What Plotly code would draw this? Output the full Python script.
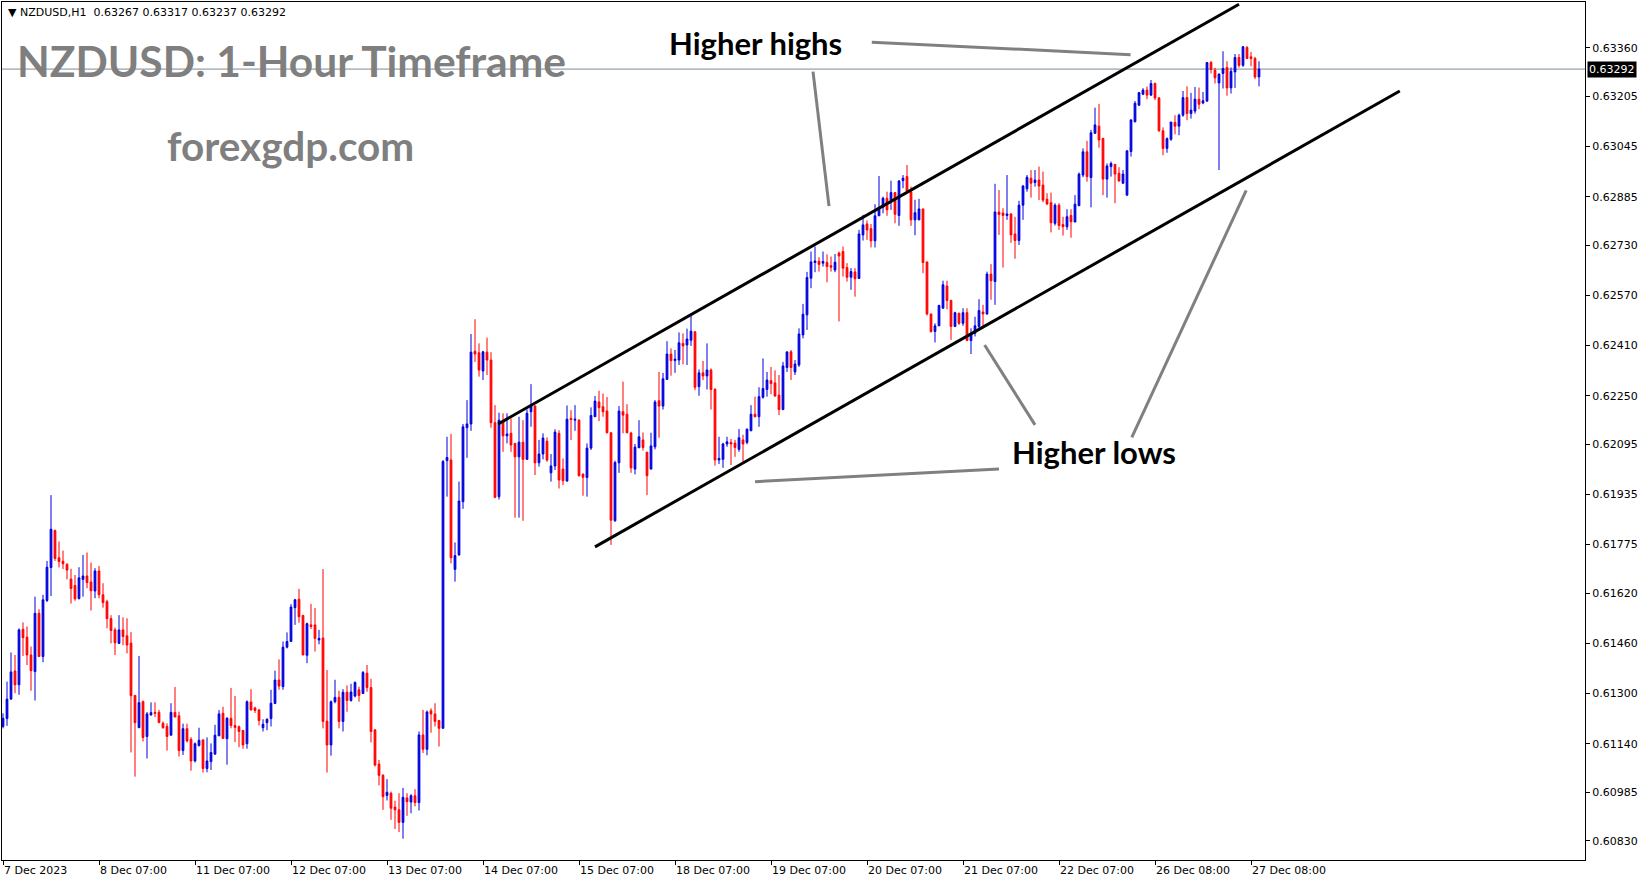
import plotly.graph_objects as go

# ---------------- data (NZDUSD H1, bar index 0..314) ----------------
opens = [0.61195,0.61220,0.61282,0.61372,0.61328,0.61505,0.61480,0.61423,0.61370,0.61556,
0.61418,0.61597,0.61702,0.61820,0.61733,0.61722,0.61712,0.61665,0.61645,0.61603,
0.61664,0.61675,0.61656,0.61627,0.61691,0.61615,0.61593,0.61539,0.61503,0.61460,
0.61503,0.61484,0.61461,0.61294,0.61191,0.61274,0.61163,0.61232,0.61240,0.61240,
0.61205,0.61195,0.61167,0.61240,0.61229,0.61118,0.61188,0.61154,0.61085,0.61134,
0.61152,0.61061,0.61083,0.61107,0.61165,0.61237,0.61156,0.61221,0.61198,0.61194,
0.61182,0.61140,0.61273,0.61254,0.61248,0.61191,0.61207,0.61220,0.61268,0.61343,
0.61322,0.61448,0.61466,0.61574,0.61601,0.61549,0.61422,0.61519,0.61519,0.61471,
0.61477,0.61212,0.61136,0.61274,0.61288,0.61211,0.61304,0.61278,0.61292,0.61312,
0.61300,0.61365,0.61319,0.61184,0.61075,0.61039,0.60975,0.60982,0.60938,0.60929,
0.60889,0.60967,0.60954,0.60974,0.60952,0.61168,0.61122,0.61245,0.61235,0.61214,
0.61189,0.62043,0.62045,0.61696,0.61742,0.61912,0.62148,0.62160,0.62392,0.62387,
0.62329,0.62389,0.62364,0.62164,0.61928,0.62167,0.62122,0.62130,0.62098,0.62055,
0.62102,0.62047,0.62199,0.62217,0.62036,0.62064,0.62105,0.62004,0.62026,0.62130,
0.62016,0.61978,0.62178,0.62172,0.62172,0.62000,0.61989,0.62083,0.62183,0.62230,
0.62215,0.62201,0.62132,0.61851,0.62036,0.62199,0.62191,0.62131,0.62016,0.62084,
0.62109,0.62070,0.62016,0.62087,0.62234,0.62217,0.62302,0.62383,0.62362,0.62364,
0.62417,0.62412,0.62427,0.62454,0.62279,0.62323,0.62313,0.62332,0.62271,0.62045,
0.62047,0.62096,0.62101,0.62099,0.62079,0.62109,0.62101,0.62138,0.62191,0.62183,
0.62245,0.62270,0.62298,0.62291,0.62252,0.62206,0.62340,0.62390,0.62326,0.62348,
0.62444,0.62508,0.62625,0.62675,0.62679,0.62673,0.62675,0.62665,0.62651,0.62705,
0.62710,0.62659,0.62628,0.62645,0.62624,0.62763,0.62798,0.62783,0.62744,0.62824,
0.62851,0.62880,0.62875,0.62898,0.62825,0.62936,0.62949,0.62901,0.62811,0.62811,
0.62846,0.62677,0.62511,0.62455,0.62473,0.62529,0.62600,0.62554,0.62471,0.62513,
0.62481,0.62515,0.62426,0.62449,0.62471,0.62517,0.62511,0.62638,0.62614,0.62836,
0.62833,0.62825,0.62830,0.62766,0.62745,0.62858,0.62910,0.62944,0.62930,0.62938,
0.62922,0.62877,0.62866,0.62800,0.62858,0.62796,0.62789,0.62825,0.62804,0.62856,
0.62954,0.63028,0.62946,0.63087,0.63110,0.63071,0.62941,0.62981,0.62988,0.62960,
0.62928,0.62890,0.63029,0.63124,0.63177,0.63212,0.63225,0.63209,0.63246,0.63200,
0.63095,0.63039,0.63068,0.63122,0.63110,0.63145,0.63201,0.63150,0.63158,0.63196,
0.63184,0.63190,0.63313,0.63288,0.63248,0.63278,0.63297,0.63232,0.63283,0.63329,
0.63304,0.63361,0.63331,0.63326,0.63267]

highs = [0.61237,0.61338,0.61431,0.61423,0.61508,0.61527,0.61514,0.61450,0.61609,0.61569,
0.61615,0.61723,0.61933,0.61823,0.61785,0.61756,0.61716,0.61698,0.61678,0.61703,
0.61742,0.61750,0.61718,0.61700,0.61707,0.61652,0.61599,0.61550,0.61510,0.61550,
0.61543,0.61540,0.61496,0.61294,0.61420,0.61278,0.61241,0.61272,0.61272,0.61248,
0.61211,0.61205,0.61269,0.61321,0.61242,0.61204,0.61204,0.61161,0.61144,0.61191,
0.61154,0.61160,0.61141,0.61200,0.61247,0.61258,0.61225,0.61318,0.61292,0.61198,
0.61184,0.61278,0.61314,0.61258,0.61248,0.61218,0.61221,0.61312,0.61373,0.61409,
0.61466,0.61495,0.61585,0.61602,0.61634,0.61551,0.61526,0.61586,0.61573,0.61503,
0.61697,0.61375,0.61278,0.61344,0.61309,0.61314,0.61326,0.61331,0.61339,0.61322,
0.61372,0.61391,0.61347,0.61187,0.61088,0.61043,0.61027,0.60987,0.60958,0.60982,
0.60999,0.60982,0.60979,0.60995,0.61179,0.61248,0.61246,0.61253,0.61269,0.61216,
0.62045,0.62119,0.62128,0.61782,0.61976,0.62160,0.62236,0.62447,0.62494,0.62417,
0.62393,0.62435,0.62389,0.62220,0.62196,0.62194,0.62194,0.62178,0.62098,0.62183,
0.62172,0.62206,0.62287,0.62220,0.62109,0.62130,0.62117,0.62064,0.62143,0.62140,
0.62050,0.62219,0.62204,0.62220,0.62175,0.62002,0.62098,0.62213,0.62249,0.62266,
0.62257,0.62246,0.62132,0.62043,0.62217,0.62295,0.62223,0.62135,0.62096,0.62172,
0.62133,0.62070,0.62132,0.62236,0.62326,0.62323,0.62424,0.62401,0.62396,0.62452,
0.62449,0.62464,0.62513,0.62456,0.62334,0.62361,0.62417,0.62337,0.62273,0.62119,
0.62100,0.62119,0.62112,0.62109,0.62144,0.62126,0.62146,0.62220,0.62247,0.62277,
0.62369,0.62326,0.62342,0.62331,0.62316,0.62358,0.62390,0.62396,0.62364,0.62465,
0.62543,0.62645,0.62710,0.62726,0.62692,0.62710,0.62701,0.62694,0.62702,0.62710,
0.62726,0.62673,0.62657,0.62657,0.62779,0.62827,0.62809,0.62798,0.62861,0.62951,
0.62885,0.62901,0.62936,0.62899,0.62938,0.62954,0.62986,0.62917,0.62875,0.62878,
0.62846,0.62677,0.62511,0.62481,0.62540,0.62617,0.62617,0.62556,0.62518,0.62515,
0.62529,0.62529,0.62465,0.62502,0.62558,0.62540,0.62646,0.62670,0.62926,0.62906,
0.62848,0.62954,0.62832,0.62821,0.62872,0.62922,0.62954,0.62970,0.62970,0.62981,
0.62965,0.62896,0.62898,0.62864,0.62864,0.62821,0.62845,0.62845,0.62890,0.62962,
0.63039,0.63063,0.63098,0.63169,0.63181,0.63071,0.62991,0.62997,0.62988,0.62979,
0.62970,0.63034,0.63130,0.63190,0.63217,0.63231,0.63236,0.63257,0.63249,0.63203,
0.63106,0.63074,0.63123,0.63145,0.63150,0.63222,0.63237,0.63216,0.63235,0.63233,
0.63219,0.63313,0.63318,0.63296,0.63278,0.63349,0.63317,0.63297,0.63340,0.63340,
0.63366,0.63365,0.63347,0.63331,0.63317]

lows = [0.61189,0.61197,0.61282,0.61301,0.61296,0.61420,0.61391,0.61309,0.61278,0.61418,
0.61400,0.61592,0.61611,0.61723,0.61702,0.61697,0.61664,0.61587,0.61596,0.61600,
0.61609,0.61636,0.61565,0.61604,0.61604,0.61574,0.61508,0.61460,0.61423,0.61458,
0.61454,0.61428,0.61112,0.61035,0.61191,0.61147,0.61093,0.61229,0.61225,0.61205,
0.61188,0.61118,0.61167,0.61225,0.61099,0.61104,0.61144,0.61054,0.61080,0.61131,
0.61048,0.61049,0.61056,0.61104,0.61165,0.61155,0.61073,0.61189,0.61145,0.61129,
0.61124,0.61124,0.61245,0.61238,0.61198,0.61179,0.61183,0.61195,0.61268,0.61312,
0.61312,0.61444,0.61466,0.61519,0.61526,0.61423,0.61397,0.61506,0.61434,0.61457,
0.61189,0.61048,0.61102,0.61269,0.61189,0.61179,0.61242,0.61274,0.61288,0.61274,
0.61300,0.61306,0.61144,0.61067,0.61007,0.60929,0.60959,0.60897,0.60868,0.60858,
0.60837,0.60910,0.60918,0.60940,0.60927,0.61110,0.61103,0.61175,0.61195,0.61131,
0.61189,0.61928,0.61715,0.61657,0.61740,0.61889,0.62052,0.62138,0.62358,0.62311,
0.62300,0.62316,0.62148,0.61923,0.61919,0.62071,0.62098,0.62071,0.61861,0.61861,
0.61851,0.62045,0.62151,0.61997,0.62024,0.62047,0.62039,0.61976,0.62013,0.61954,
0.61965,0.61976,0.62109,0.62138,0.61992,0.61931,0.61928,0.62077,0.62183,0.62169,
0.62183,0.62130,0.61774,0.61848,0.62004,0.62130,0.62130,0.62004,0.61999,0.62084,
0.62075,0.61933,0.62015,0.62079,0.62116,0.62206,0.62302,0.62314,0.62323,0.62348,
0.62350,0.62348,0.62409,0.62268,0.62250,0.62300,0.62270,0.62206,0.62027,0.62032,
0.62020,0.62087,0.62029,0.62055,0.62071,0.62037,0.62095,0.62138,0.62181,0.62151,
0.62241,0.62247,0.62255,0.62247,0.62188,0.62204,0.62326,0.62300,0.62316,0.62342,
0.62433,0.62460,0.62593,0.62644,0.62646,0.62662,0.62612,0.62646,0.62644,0.62487,
0.62630,0.62614,0.62588,0.62566,0.62624,0.62745,0.62747,0.62723,0.62723,0.62824,
0.62832,0.62824,0.62843,0.62800,0.62792,0.62912,0.62896,0.62792,0.62762,0.62810,
0.62641,0.62506,0.62451,0.62420,0.62473,0.62529,0.62526,0.62428,0.62469,0.62476,
0.62473,0.62426,0.62383,0.62439,0.62465,0.62465,0.62508,0.62556,0.62540,0.62763,
0.62659,0.62811,0.62738,0.62687,0.62731,0.62811,0.62901,0.62882,0.62917,0.62874,
0.62867,0.62858,0.62771,0.62793,0.62779,0.62761,0.62779,0.62754,0.62804,0.62856,
0.62947,0.62933,0.62851,0.63087,0.63041,0.62890,0.62882,0.62949,0.62864,0.62933,
0.62926,0.62887,0.63013,0.63122,0.63174,0.63209,0.63196,0.63206,0.63193,0.63092,
0.63017,0.63025,0.63063,0.63084,0.63081,0.63140,0.63129,0.63134,0.63150,0.63164,
0.63180,0.63187,0.63278,0.63246,0.62970,0.63230,0.63207,0.63214,0.63232,0.63297,
0.63299,0.63324,0.63301,0.63260,0.63237]

closes = [0.61221,0.61282,0.61369,0.61328,0.61503,0.61478,0.61423,0.61373,0.61556,0.61418,
0.61599,0.61703,0.61824,0.61731,0.61721,0.61714,0.61694,0.61635,0.61602,0.61669,
0.61675,0.61654,0.61628,0.61691,0.61615,0.61590,0.61539,0.61501,0.61462,0.61503,
0.61482,0.61455,0.61293,0.61207,0.61271,0.61160,0.61235,0.61239,0.61237,0.61208,
0.61191,0.61163,0.61240,0.61225,0.61118,0.61188,0.61149,0.61085,0.61140,0.61151,
0.61061,0.61085,0.61112,0.61167,0.61235,0.61157,0.61221,0.61198,0.61192,0.61179,
0.61136,0.61274,0.61248,0.61246,0.61214,0.61202,0.61218,0.61269,0.61343,0.61324,
0.61448,0.61466,0.61576,0.61599,0.61545,0.61423,0.61523,0.61514,0.61476,0.61476,
0.61211,0.61136,0.61274,0.61288,0.61211,0.61304,0.61278,0.61305,0.61335,0.61294,
0.61367,0.61319,0.61179,0.61072,0.61039,0.60971,0.60985,0.60934,0.60929,0.60889,
0.60969,0.60955,0.60974,0.60952,0.61168,0.61122,0.61241,0.61235,0.61211,0.61189,
0.62040,0.62053,0.61733,0.61740,0.61914,0.62151,0.62160,0.62389,0.62383,0.62332,
0.62390,0.62364,0.62164,0.61926,0.62172,0.62122,0.62128,0.62093,0.62055,0.62102,
0.62047,0.62194,0.62217,0.62036,0.62064,0.62115,0.62045,0.62026,0.62134,0.61981,
0.61979,0.62175,0.62174,0.62175,0.61995,0.61990,0.62083,0.62187,0.62233,0.62212,
0.62199,0.62132,0.61853,0.62037,0.62201,0.62188,0.62132,0.62020,0.62086,0.62119,
0.62085,0.61995,0.62090,0.62230,0.62217,0.62304,0.62383,0.62362,0.62367,0.62419,
0.62409,0.62431,0.62456,0.62277,0.62323,0.62313,0.62332,0.62270,0.62045,0.62050,
0.62096,0.62103,0.62096,0.62085,0.62116,0.62096,0.62143,0.62191,0.62183,0.62247,
0.62273,0.62300,0.62289,0.62249,0.62206,0.62345,0.62390,0.62340,0.62351,0.62447,
0.62510,0.62627,0.62677,0.62680,0.62669,0.62678,0.62662,0.62660,0.62676,0.62696,
0.62657,0.62628,0.62646,0.62623,0.62766,0.62795,0.62779,0.62744,0.62824,0.62851,
0.62880,0.62843,0.62898,0.62829,0.62935,0.62944,0.62901,0.62811,0.62834,0.62846,
0.62675,0.62511,0.62455,0.62473,0.62538,0.62604,0.62554,0.62471,0.62515,0.62481,
0.62515,0.62426,0.62449,0.62473,0.62522,0.62511,0.62638,0.62617,0.62836,0.62828,
0.62825,0.62830,0.62763,0.62745,0.62858,0.62919,0.62947,0.62928,0.62938,0.62919,
0.62874,0.62862,0.62802,0.62858,0.62793,0.62789,0.62821,0.62805,0.62861,0.62957,
0.63028,0.62949,0.63089,0.63114,0.63066,0.62941,0.62983,0.62991,0.62957,0.62935,
0.62957,0.63031,0.63130,0.63183,0.63217,0.63225,0.63209,0.63246,0.63200,0.63095,
0.63039,0.63070,0.63123,0.63110,0.63145,0.63201,0.63150,0.63161,0.63196,0.63180,
0.63191,0.63313,0.63291,0.63264,0.63276,0.63294,0.63232,0.63285,0.63329,0.63304,
0.63363,0.63326,0.63326,0.63267,0.63292]

bars = list(range(len(closes)))

x_tick_bars = [0, 24, 48, 72, 96, 120, 144, 168, 192, 216, 240, 264, 288, 312]
x_tick_labels = ["7 Dec 2023", "8 Dec 07:00", "11 Dec 07:00", "12 Dec 07:00", "13 Dec 07:00",
                 "14 Dec 07:00", "15 Dec 07:00", "18 Dec 07:00", "19 Dec 07:00", "20 Dec 07:00",
                 "21 Dec 07:00", "22 Dec 07:00", "26 Dec 08:00", "27 Dec 08:00"]
y_tick_values = [0.60830, 0.60985, 0.61140, 0.61300, 0.61460, 0.61620, 0.61775, 0.61935,
                 0.62095, 0.62250, 0.62410, 0.62570, 0.62730, 0.62885, 0.63045, 0.63205, 0.63360]
y_tick_labels = [f"{v:.5f}" for v in y_tick_values]

current_price = 0.63292
header_values = "0.63267 0.63317 0.63237 0.63292"

# drawn channel (bar index, price)
upper_channel = [(123.8, 0.62160), (309.0, 0.63499)]
lower_channel = [(148.0, 0.61768), (349.2, 0.63222)]
pointer_lines = [
    [(217.2, 0.63378), (281.9, 0.63338)],
    [(202.5, 0.63284), (206.5, 0.62855)],
    [(245.4, 0.62412), (258.0, 0.62157)],
    [(310.8, 0.62905), (282.2, 0.62117)],
    [(188.0, 0.61976), (249.0, 0.62016)],
]

BLUE = "#0000DD"
RED = "#FF0000"
AXFONT = dict(family="DejaVu Sans", size=11, color="black")

fig = go.Figure()
fig.add_trace(go.Candlestick(
    x=bars, open=opens, high=highs, low=lows, close=closes,
    increasing=dict(line=dict(color=BLUE, width=1), fillcolor=BLUE),
    decreasing=dict(line=dict(color=RED, width=1), fillcolor=RED),
    whiskerwidth=0, hoverinfo="skip", showlegend=False,
))

shapes = []
shapes.append(dict(type="line", xref="paper", x0=0, x1=1, yref="y", y0=current_price, y1=current_price,
                   line=dict(color="#7A8A9A", width=1), layer="below"))
for (a, b) in [upper_channel, lower_channel]:
    shapes.append(dict(type="line", xref="x", yref="y", x0=a[0], y0=a[1], x1=b[0], y1=b[1],
                       line=dict(color="black", width=3)))
for (a, b) in pointer_lines:
    shapes.append(dict(type="line", xref="x", yref="y", x0=a[0], y0=a[1], x1=b[0], y1=b[1],
                       line=dict(color="#808080", width=3)))

annotations = [
    dict(text="NZDUSD: 1-Hour Timeframe", xref="paper", yref="paper", x=0.0082, y=0.9315,
         xanchor="left", yanchor="middle", showarrow=False,
         font=dict(family="Lato", size=42.5, color="#7F7F7F", weight="bold")),
    dict(text="forexgdp.com", xref="paper", yref="paper", x=0.1029, y=0.8322,
         xanchor="left", yanchor="middle", showarrow=False,
         font=dict(family="Lato", size=40.5, color="#7F7F7F", weight="bold")),
    dict(text="Higher highs", xref="paper", yref="paper", x=0.4200, y=0.952,
         xanchor="left", yanchor="middle", showarrow=False,
         font=dict(family="Lato", size=31, color="black", weight="bold")),
    dict(text="Higher lows", xref="paper", yref="paper", x=0.6368, y=0.4758,
         xanchor="left", yanchor="middle", showarrow=False,
         font=dict(family="Lato", size=31, color="black", weight="bold")),
    dict(text="\u25BC\u00a0NZDUSD,H1\u00a0\u00a0" + header_values.replace(" ", "\u00a0"),
         xref="paper", yref="paper", x=0.0025, y=0.9883,
         xanchor="left", yanchor="middle", showarrow=False,
         font=dict(family="DejaVu Sans", size=11, color="black")),
    dict(text=f"{current_price:.5f}", xref="paper", yref="y", x=1, y=current_price,
         xanchor="left", yanchor="middle", xshift=2, showarrow=False,
         bgcolor="black", borderpad=1, font=dict(family="DejaVu Sans", size=11, color="white")),
]

fig.update_layout(
    width=1649, height=884,
    margin=dict(l=2, r=64, t=2, b=24),
    paper_bgcolor="white", plot_bgcolor="white",
    boxgap=0.38,
    shapes=shapes, annotations=annotations,
    hovermode=False, dragmode=False, showlegend=False,
    xaxis=dict(range=[-0.25, 395.5], showgrid=False, zeroline=False,
               showline=True, linecolor="black", linewidth=1, mirror=True,
               ticks="outside", ticklen=4, tickcolor="black",
               tickvals=x_tick_bars, ticktext=x_tick_labels,
               ticklabelposition="outside right", tickfont=AXFONT,
               rangeslider=dict(visible=False), fixedrange=True),
    yaxis=dict(range=[0.60769, 0.63506], side="right", showgrid=False, zeroline=False,
               showline=True, linecolor="black", linewidth=1, mirror=True,
               ticks="outside", ticklen=4, tickcolor="black",
               tickvals=y_tick_values, ticktext=y_tick_labels, tickfont=AXFONT,
               fixedrange=True),
)

fig.write_html("out.html", config={"displayModeBar": False, "staticPlot": True})
